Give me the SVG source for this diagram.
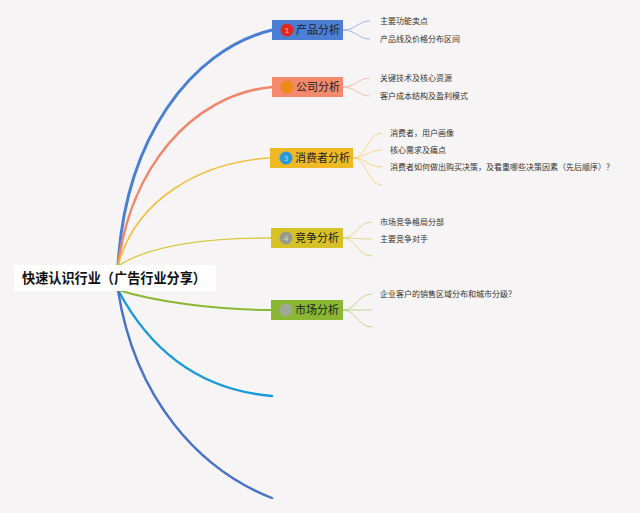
<svg xmlns="http://www.w3.org/2000/svg" width="640" height="513" viewBox="0 0 640 513">
<style>
.bg{fill:#f6f4f4}
.main{fill:none;stroke-linecap:round}
.sub{fill:none;stroke-width:0.8}
.lbl{font-family:"Noto Sans CJK SC","Noto Sans CJK JP",sans-serif;font-size:11px;fill:#222}
.leaf{font-family:"Noto Sans CJK SC","Noto Sans CJK JP",sans-serif;font-size:8px;fill:#333}
.root{font-family:"Noto Sans CJK SC","Noto Sans CJK JP",sans-serif;font-size:14px;font-weight:bold;fill:#111}
.num{font-family:"Liberation Sans",sans-serif;font-size:8px;text-anchor:middle}
</style>
<rect class="bg" x="0" y="0" width="640" height="513"/>
<g id="connectors">
  <path class="main" d="M118,266 C125,140 190,50 272,30" stroke="#4a7fd4" stroke-width="3"/>
  <path class="main" d="M118,266 C130,170 190,95 272,87" stroke="#f0876a" stroke-width="2.6"/>
  <path class="main" d="M118,266 C135,200 200,162 270,158" stroke="#f0c040" stroke-width="1.6"/>
  <path class="main" d="M118,266 C150,245 210,238 271,238" stroke="#d8c83a" stroke-width="1.3"/>
  <path class="main" d="M118,290 C150,300 210,310 271,310" stroke="#8ab833" stroke-width="2"/>
  <path class="main" d="M118,290 C150,350 200,390 272,396" stroke="#1a9ad8" stroke-width="2.4"/>
  <path class="main" d="M118,290 C135,400 200,470 272,498" stroke="#4a72c8" stroke-width="2.4"/>
  <path class="sub" stroke="#8aa6dc" d="M343,30 C356,30 358,21 370,21 M343,30 C356,30 358,39 370,39"/>
  <path class="sub" stroke="#f4b09c" d="M343,87 C356,87 358,78 370,78 M343,87 C356,87 358,96 370,96"/>
  <path class="sub" stroke="#f2cf70" d="M353,158 C366,158 368,133 382,133 M353,158 C366,158 368,150 382,150 M353,158 C366,158 368,167 382,167 M353,158 C366,158 368,185 382,185"/>
  <path class="sub" stroke="#dcd070" d="M343,238 C356,238 358,222 372,222 M343,238 C356,238 358,239 372,239 M343,238 C356,238 358,256 372,256"/>
  <path class="sub" stroke="#b0d070" d="M343,310 C356,310 358,294 372,294 M343,310 C356,310 358,310 372,310 M343,310 C356,310 358,327 372,327"/>
</g>
<g id="root">
  <rect x="14" y="265" width="202" height="26" fill="#ffffff"/>
  <text class="root" x="22" y="283" textLength="184" lengthAdjust="spacingAndGlyphs">快速认识行业（广告行业分享）</text>
</g>
<g id="n1">
  <rect x="272" y="20" width="71" height="20" fill="#4a7fd4"/>
  <circle cx="287" cy="30" r="6.5" fill="#e0281c"/>
  <text class="num" x="287" y="33" fill="#f6c0b0">1</text>
  <text class="lbl" x="296" y="34">产品分析</text>
  <text class="leaf" x="380" y="24">主要功能卖点</text>
  <text class="leaf" x="380" y="42">产品线及价格分布区间</text>
</g>
<g id="n2">
  <rect x="272" y="77" width="71" height="20" fill="#f4896b"/>
  <circle cx="287" cy="87" r="6.5" fill="#ee8a18"/>
  <text class="lbl" x="296" y="91">公司分析</text>
  <text class="leaf" x="380" y="81">关键技术及核心资源</text>
  <text class="leaf" x="380" y="99">客户成本结构及盈利模式</text>
</g>
<g id="n3">
  <rect x="270" y="148" width="83" height="20" fill="#efb925"/>
  <circle cx="286" cy="158" r="6.5" fill="#2a98d8"/>
  <text class="num" x="286" y="161" fill="#a8d8f0">3</text>
  <text class="lbl" x="295" y="162">消费者分析</text>
  <text class="leaf" x="390" y="136">消费者，用户画像</text>
  <text class="leaf" x="390" y="153">核心需求及痛点</text>
  <text class="leaf" x="390" y="170">消费者如何做出购买决策，及看重哪些决策因素（先后顺序）？</text>
</g>
<g id="n4">
  <rect x="271" y="228" width="72" height="20" fill="#d6c227"/>
  <circle cx="286" cy="238" r="6.5" fill="#9a9a8c"/>
  <text class="num" x="286" y="241" fill="#d8d8c8">4</text>
  <text class="lbl" x="295" y="242">竞争分析</text>
  <text class="leaf" x="380" y="225">市场竞争格局分部</text>
  <text class="leaf" x="380" y="242">主要竞争对手</text>
</g>
<g id="n5">
  <rect x="271" y="300" width="72" height="20" fill="#8ab833"/>
  <circle cx="286" cy="310" r="6.5" fill="#a0a898"/>
  <text class="lbl" x="295" y="314">市场分析</text>
  <text class="leaf" x="380" y="297">企业客户的销售区域分布和城市分级？</text>
</g>
</svg>
